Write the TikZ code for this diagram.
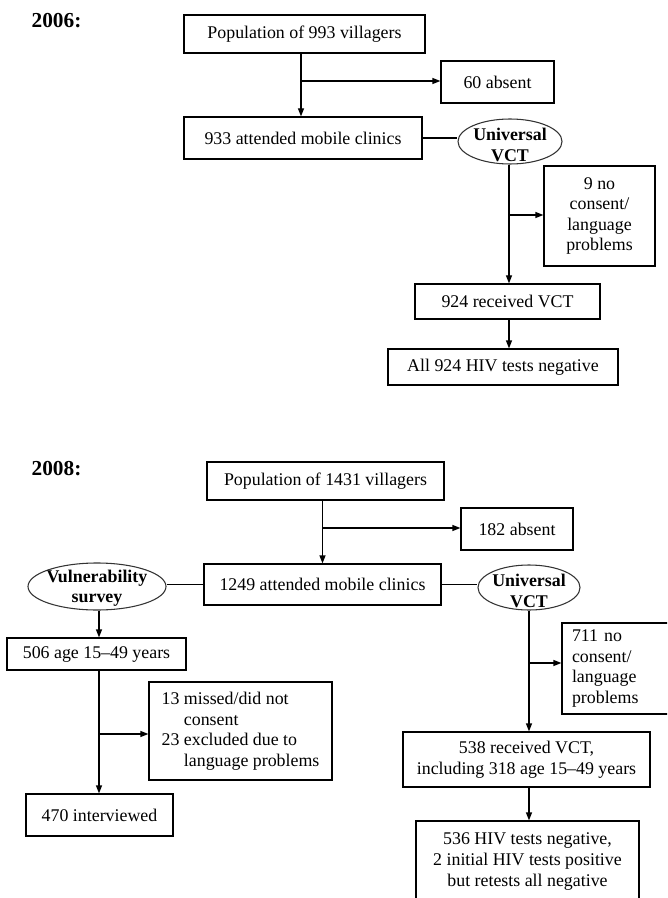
\documentclass[tikz,border=0pt]{standalone}
\usepackage{fontspec}
\setmainfont{Liberation Serif}
\usetikzlibrary{shapes.geometric,arrows.meta}
\tikzset{
  box/.style={draw=black, line width=0.9pt, fill=white, inner sep=0pt, align=center,
    font=\fontsize{13.4pt}{15.4pt}\selectfont},
  ellbox/.style={draw=black!80, line width=0.8pt, ellipse, inner sep=0pt},
  elltext/.style={inner sep=0pt, align=center, font=\fontsize{13.4pt}{15.4pt}\selectfont\bfseries},
  yearlabel/.style={inner sep=0pt, font=\fontsize{16pt}{18pt}\selectfont\bfseries},
  conn/.style={draw=black, line width=0.9pt},
  arr/.style={conn, -{Triangle[length=6pt,width=4.5pt]}},
}
\begin{document}
\begin{tikzpicture}[x=0.75pt,y=-0.75pt]
\useasboundingbox (0,0) rectangle (667,898);
\clip (0,0) rectangle (667,898);
\fill[white] (0,0) rectangle (667,898);

% ---------------- 2006 ----------------
\node[yearlabel] (t06) at (56.5,20.5) {2006:};
\node[box, minimum width=180.75pt, minimum height=28.5pt] (pop06) at (304.5,34) {Population of 993 villagers};
\node[box, minimum width=84.75pt, minimum height=31.5pt] (abs06) at (497.5,82) {60 absent};
\node[box, minimum width=178.5pt, minimum height=31.5pt] (att06) at (303,138) {933 attended mobile clinics};
\node[ellbox, minimum width=78pt, minimum height=33.75pt] (vct06) at (510,141.5) {};
\node[elltext] (vct06t) at (510,145) {Universal\\VCT};
\node[box, minimum width=83.25pt, minimum height=75pt] (no06) at (599.5,216) {9 no\\consent/\\language\\problems};
\node[box, minimum width=138.75pt, minimum height=26.25pt] (rec06) at (507.5,301.5) {924 received VCT};
\node[box, minimum width=172.5pt, minimum height=27pt] (neg06) at (503,367) {All 924 HIV tests negative};

\coordinate (j1) at (301,81);
\coordinate (j2) at (509,215);
\draw[arr] (pop06.south -| j1) -- (att06.north -| j1);
\draw[arr] (j1) -- (abs06.west |- j1);
\draw[conn] (att06.east) -- (att06.east -| vct06.west);
\draw[arr] (vct06.south -| j2) -- (rec06.north -| j2);
\draw[arr] (j2) -- (no06.west |- j2);
\draw[arr] (rec06.south -| j2) -- (neg06.north -| j2);

% ---------------- 2008 ----------------
\node[yearlabel] (t08) at (56.5,469) {2008:};
\node[box, minimum width=177.75pt, minimum height=28.5pt] (pop08) at (325.5,481) {Population of 1431 villagers};
\node[box, minimum width=84pt, minimum height=31.5pt] (abs08) at (517,529) {182 absent};
\node[box, minimum width=177.75pt, minimum height=30.75pt] (att08) at (322.5,584.5) {1249 attended mobile clinics};
\node[ellbox, minimum width=103.5pt, minimum height=35.25pt] (vul) at (97,586.5) {};
\node[elltext] (vult) at (97,588) {Vulnerability\\survey};
\node[ellbox, minimum width=76.5pt, minimum height=33.75pt] (vct08) at (529,587.5) {};
\node[elltext] (vct08t) at (529,591) {Universal\\VCT};
\node[box, minimum width=134.25pt, minimum height=24pt] (b506) at (96.5,654) {506 age 15–49 years};
\node[box, minimum width=137.25pt, minimum height=73.5pt, align=left] (b13) at (240.5,731)
  {13 missed/did not\\\hphantom{13} consent\\23 excluded due to\\\hphantom{23} language problems};
\node[box, minimum width=110.25pt, minimum height=31.5pt] (b470) at (99.5,815) {470 interviewed};
\node[box, minimum width=92.25pt, minimum height=68.25pt, text width=77.25pt, inner xsep=7.5pt, align=left] (b711) at (623.5,668.5)
  {711 no\\consent/\\language\\problems};
\node[box, minimum width=185.25pt, minimum height=41.25pt] (b538) at (526.5,759.5) {538 received VCT,\\including 318 age 15–49 years};
\node[box, minimum width=167.25pt, minimum height=60.75pt] (b536) at (527.5,861.5) {536 HIV tests negative,\\2 initial HIV tests positive\\but retests all negative};

\coordinate (j3) at (322.5,528);
\coordinate (j4) at (99,734);
\coordinate (j5) at (529,663);
\draw[arr] (pop08.south -| j3) -- (att08.north -| j3);
\draw[arr] (j3) -- (abs08.west |- j3);
\draw[conn] (att08.west) -- (att08.west -| vul.east);
\draw[conn] (att08.east) -- (att08.east -| vct08.west);
\draw[arr] (vul.south -| j4) -- (b506.north -| j4);
\draw[arr] (b506.south -| j4) -- (b470.north -| j4);
\draw[arr] (j4) -- (b13.west |- j4);
\draw[arr] (vct08.south -| j5) -- (b538.north -| j5);
\draw[arr] (j5) -- (b711.west |- j5);
\draw[arr] (b538.south -| j5) -- (b536.north -| j5);
\end{tikzpicture}
\end{document}
